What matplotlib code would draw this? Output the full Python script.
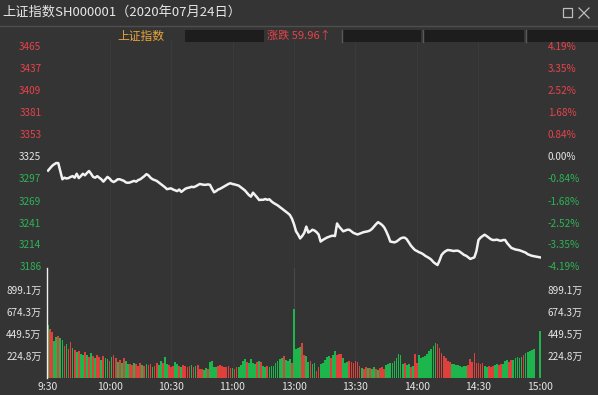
import matplotlib
matplotlib.use("Agg")
import matplotlib.pyplot as plt
from matplotlib.patches import Rectangle
from matplotlib.lines import Line2D

plt.rcParams["font.family"] = ["Noto Sans CJK SC", "DejaVu Sans"]

# --- data (SSE Composite, 2020-07-24, 1-min) ------------------------------- #
TITLE = "上证指数SH000001（2020年07月24日）"
PRE_CLOSE = 3325

PRICE = [
    3307, 3310, 3313, 3315, 3316.6, 3316.5, 3306, 3296, 3298, 3297,
    3297.5, 3299, 3300, 3298, 3303, 3297.5, 3300, 3303, 3301, 3304,
    3306.5, 3303, 3299, 3298, 3300, 3298, 3296, 3293, 3296, 3299,
    3297, 3294, 3292.5, 3294, 3296, 3296, 3295, 3294, 3292, 3291.5,
    3292, 3293, 3294, 3293, 3295, 3296, 3298, 3300, 3302.5, 3301,
    3298, 3296, 3295, 3294, 3292, 3290, 3288, 3286, 3283.5, 3284,
    3284.5, 3283, 3282, 3281, 3283, 3280, 3282, 3284, 3285, 3285.5,
    3286.5, 3286, 3287, 3288.5, 3290, 3289.5, 3289, 3289, 3289.5, 3289,
    3284, 3279.5, 3281, 3283, 3284, 3285.5, 3287, 3288.5, 3290, 3291,
    3290, 3289.5, 3288.8, 3288, 3286, 3284, 3282, 3279, 3276, 3274,
    3279, 3276, 3273, 3269.7, 3270, 3270, 3271, 3270, 3270.6, 3268,
    3266, 3264.5, 3263, 3261, 3259, 3257, 3255, 3253, 3250.7, 3246,
    3239, 3230, 3226, 3221, 3224, 3228, 3236, 3228.5, 3230, 3232,
    3231, 3229, 3226, 3217, 3219, 3220.5, 3222, 3223, 3224, 3224.5,
    3224, 3240, 3236, 3233, 3230, 3231, 3232, 3232, 3230, 3228,
    3227, 3226, 3227, 3228, 3229, 3229.5, 3230, 3231, 3233, 3236,
    3239, 3241.6, 3240, 3238, 3235, 3230, 3224, 3217, 3216.5, 3216,
    3217, 3219, 3221, 3222, 3222, 3220, 3216, 3212, 3209, 3206.3,
    3205, 3203.5, 3202.5, 3201, 3199, 3197.5, 3196, 3194, 3191, 3189,
    3187.3, 3193, 3200, 3203, 3205, 3206.3, 3206, 3205.5, 3205, 3205.5,
    3205.4, 3204, 3202, 3200, 3199, 3197, 3195, 3196, 3197, 3205,
    3219, 3222, 3224, 3225.7, 3224, 3222, 3220, 3219, 3219, 3219.5,
    3218.5, 3218, 3219, 3219, 3215, 3212, 3209, 3208, 3207, 3206.5,
    3206, 3205, 3204, 3203, 3201, 3200, 3199, 3198.5, 3198, 3197.5,
    3197,
]

# volume per minute, in 万 (10k lots)
VOLUME = [
    540, 500, 470, 380, 420, 430, 410, 390, 330, 350,
    300, 370, 310, 290, 270, 280, 250, 230, 265, 240,
    210, 260, 220, 200, 235, 215, 180, 225, 205, 190,
    175, 215, 240, 200, 160, 185, 150, 200, 175, 140,
    145, 130, 150, 140, 125, 150, 135, 120, 145, 130,
    140, 115, 125, 150, 135, 170, 150, 215, 140, 130,
    110, 125, 165, 140, 120, 110, 130, 125, 115, 120,
    135, 110, 120, 130, 90, 95, 85, 100, 90, 165,
    170, 110, 115, 125, 130, 120, 110, 115, 120, 105,
    100, 95, 110, 115, 130, 175, 190, 160, 150, 195,
    150, 140, 165, 175, 160, 125, 115, 120, 110, 125,
    120, 150, 175, 190, 200, 225, 185, 170, 195, 150,
    705, 300, 310, 320, 360, 240, 225, 160, 175, 140,
    150, 75, 110, 145, 150, 180, 210, 225, 200, 240,
    275, 230, 245, 250, 200, 150, 165, 170, 160, 150,
    175, 165, 120, 100, 95, 110, 105, 100, 90, 110,
    95, 85, 100, 110, 90, 130, 140, 150, 155, 170,
    200, 245, 230, 140, 150, 130, 145, 110, 120, 245,
    150, 240, 205, 215, 225, 250, 280, 300, 330, 360,
    345, 305, 260, 225, 200, 175, 160, 140, 145, 135,
    130, 120, 115, 120, 125, 130, 195, 165, 255, 150,
    150, 145, 155, 120, 115, 125, 110, 120, 130, 140,
    135, 140, 145, 175, 180, 165, 185, 180, 200, 210,
    205, 215, 230, 255, 265, 275, 285, 295, 0, 0,
    480,
]

# r = up minute, g = down minute
DIRECTION = (
    "grrggrggrg" "rrgrgrggrg" "rgrgrrgrgg" "rgrrgrgrgg" "rrgrrrgrgr"
    "rgrrggrggr" "rrggrgrrrr" "grgrrrggrg" "gggrrrrrrr" "grrggggrgg"
    "ggrgrggrgg" "gggggrgggr" "ggggrrggrg" "grrgggggrg" "grrrgggrrr"
    "rrrgrrgrgg" "rgrrrggggg" "ggggrggrgr" "rggggggggg" "rrrrrrrggg"
    "gggggrrrrr" "rrrggrrrgg" "rrgggrrggg" "ggrggggggg" "g"
)

PRICE_TICKS = [3186, 3214, 3241, 3269, 3297, 3325, 3353, 3381, 3409, 3437, 3465]
PCT_LABELS = ["-4.19%", "-3.35%", "-2.52%", "-1.68%", "-0.84%", "0.00%",
              "0.84%", "1.68%", "2.52%", "3.35%", "4.19%"]
VOL_TICKS = [224.8, 449.5, 674.3, 899.1]
VOL_LABELS = ["224.8万", "449.5万", "674.3万", "899.1万"]
TIME_TICKS = [0, 30, 60, 90, 120, 150, 180, 210, 240]
TIME_LABELS = ["9:30", "10:00", "10:30", "11:00", "13:00", "13:30",
               "14:00", "14:30", "15:00"]

BG = "#343434"
RED = "#e8434b"
GREEN = "#2db457"
BAR_RED = "#e0403c"
BAR_GREEN = "#1db64c"
TXT = "#e6e6e6"
W, H = 598, 395


def fx(px):
    return px / W


def fy(py):
    return 1 - py / H


def tick_color(v):
    if v > PRE_CLOSE:
        return RED
    if v < PRE_CLOSE:
        return GREEN
    return TXT


def main():
    fig = plt.figure(figsize=(W / 100, H / 100), dpi=100, facecolor=BG)
    minutes = list(range(len(PRICE)))

    # ---- price panel ----
    ax = fig.add_axes([fx(47), fy(268), fx(541) - fx(47), fy(40) - fy(268)])
    ax.set_facecolor(BG)
    for t in TIME_TICKS[1:-1]:
        ax.axvline(t, color="#3a3a3a", lw=0.8, zorder=0)
    ax.plot(minutes, PRICE, color="#f2f2f2", lw=1.8, solid_joinstyle="round")
    ax.set_xlim(-0.5, 240.5)
    ax.set_ylim(3183.5, 3472.6)
    ax.set_xticks([])
    ax.set_yticks(PRICE_TICKS)
    ax.set_yticklabels([str(v) for v in PRICE_TICKS], fontsize=7.2)
    ax.tick_params(axis="y", length=0, pad=4)
    for lab, v in zip(ax.get_yticklabels(), PRICE_TICKS):
        lab.set_color(tick_color(v))
    for s in ax.spines.values():
        s.set_visible(False)

    axr = ax.twinx()
    axr.set_ylim(ax.get_ylim())
    axr.set_yticks(PRICE_TICKS)
    axr.set_yticklabels(PCT_LABELS, fontsize=7.2)
    axr.tick_params(axis="y", length=0, pad=5)
    for lab, v in zip(axr.get_yticklabels(), PRICE_TICKS):
        lab.set_color(tick_color(v))
    for s in axr.spines.values():
        s.set_visible(False)

    # ---- volume panel ----
    av = fig.add_axes([fx(47), fy(378), fx(541) - fx(47), fy(268) - fy(378)])
    av.set_facecolor(BG)
    for t in TIME_TICKS[1:-1]:
        av.axvline(t, color="#484848" if t == 120 else "#3a3a3a", lw=0.8, zorder=0)
    colors = [BAR_RED if d == "r" else BAR_GREEN for d in DIRECTION]
    av.bar(minutes, VOLUME, width=0.85, color=colors, linewidth=0,
           antialiased=False)
    av.set_xlim(-0.5, 240.5)
    av.set_ylim(0, 1124)
    av.set_yticks(VOL_TICKS)
    av.set_yticklabels(VOL_LABELS, fontsize=7.2, color=TXT)
    av.tick_params(axis="y", length=0, pad=4)
    av.set_xticks(TIME_TICKS)
    av.set_xticklabels(TIME_LABELS, fontsize=7.5, color=TXT)
    av.tick_params(axis="x", length=0, pad=3)
    for name, s in av.spines.items():
        s.set_visible(name == "left")
    av.spines["left"].set_color("#f0f0f0")
    av.spines["left"].set_linewidth(1.0)

    avr = av.twinx()
    avr.set_ylim(av.get_ylim())
    avr.set_yticks(VOL_TICKS)
    avr.set_yticklabels(VOL_LABELS, fontsize=7.2, color=TXT)
    avr.tick_params(axis="y", length=0, pad=5)
    for s in avr.spines.values():
        s.set_visible(False)

    # ---- window header ----
    fig.text(fx(2), fy(12), TITLE, fontsize=9.5, color=TXT, va="center", ha="left")
    fig.add_artist(Line2D([0, 1], [fy(25.5)] * 2, color="#4e4e4e", lw=1))
    # restore / close glyphs
    fig.add_artist(Rectangle((fx(563), fy(17)), fx(9), fy(8) - fy(17),
                             fill=False, ec="#bdbdbd", lw=0.9))
    fig.add_artist(Line2D([fx(579), fx(589)], [fy(8), fy(18)], color="#bdbdbd", lw=0.9))
    fig.add_artist(Line2D([fx(579), fx(589)], [fy(18), fy(8)], color="#bdbdbd", lw=0.9))

    # info strip
    for x0, x1 in [(185, 264), (343, 421), (424, 524), (527, 598)]:
        fig.add_artist(Rectangle((fx(x0), fy(42)), fx(x1) - fx(x0), fy(30) - fy(42),
                                 color="#1d1d1d", lw=0))
    for xs in [342, 422.5, 525.5]:
        fig.add_artist(Line2D([fx(xs)] * 2, [fy(42), fy(30)], color="#5a5a5a", lw=1))
    fig.text(fx(141), fy(36), "上证指数", fontsize=8.5, color="#e8a53a",
             ha="center", va="center")
    fig.text(fx(267), fy(36), "涨跌 59.96↑", fontsize=8, color=RED,
             ha="left", va="center")

    fig.savefig("out.png", dpi=100, facecolor=BG)


if __name__ == "__main__":
    main()
